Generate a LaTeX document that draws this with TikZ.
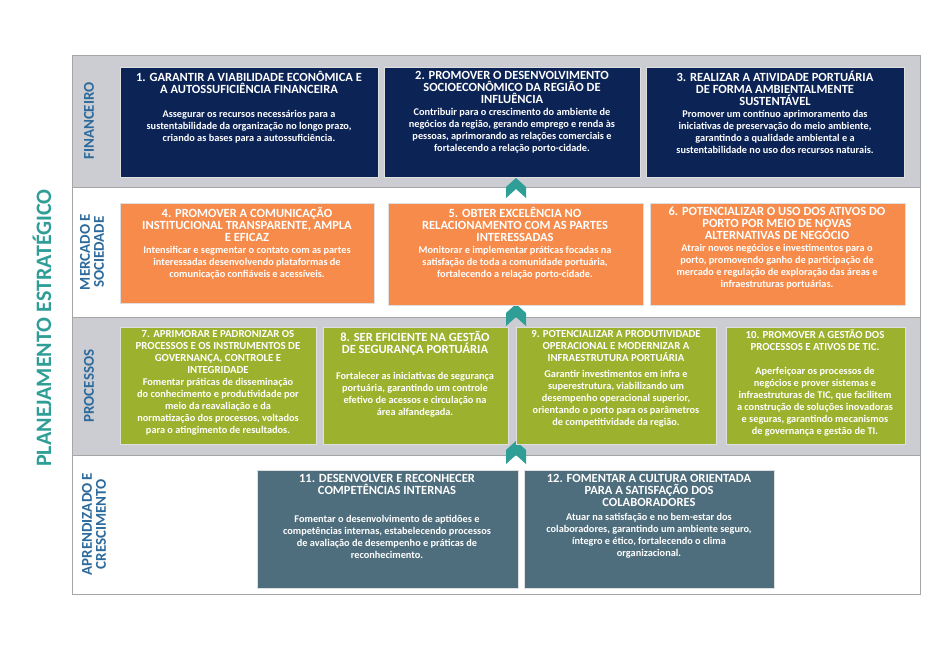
\documentclass[tikz,border=0pt]{standalone}
\usepackage{fontspec}
\setmainfont{Carlito}
\definecolor{navy}{HTML}{0C2356}
\definecolor{orng}{HTML}{F68B4B}
\definecolor{grn}{HTML}{9CB12E}
\definecolor{slate}{HTML}{4E6D7D}
\definecolor{band}{HTML}{CBCDD2}
\definecolor{lblue}{HTML}{2D6A9C}
\definecolor{teal}{HTML}{2E9E97}
\tikzset{
  txt/.style={text=white, font=\bfseries, align=center, anchor=north, inner sep=0pt},
  boxedge/.style={draw=white!75!gray, line width=0.6pt},
  bandlbl/.style={rotate=90, text=lblue, font=\bfseries\fontsize{15}{14}\selectfont, align=center},
  chev/.style={fill=teal}
}
\newcommand{\myH}{\fontsize{12.5}{16}\selectfont}
\newcommand{\myS}{\fontsize{10.8}{14}\selectfont}
\newcommand{\myB}{\fontsize{10.3}{12.3}\selectfont}
\begin{document}
\begin{tikzpicture}[x=1pt,y=-1pt]
\useasboundingbox (0,0) rectangle (945,646);
\fill[white] (0,0) rectangle (945,646);
\fill[band] (72,55) rectangle (920,187);
\fill[band] (72,317) rectangle (920,455);
\draw[gray!70, line width=1pt] (72,55) rectangle (920,594);
\draw[gray!70, line width=1pt] (72,187) -- (920,187) (72,317) -- (920,317) (72,455) -- (920,455);
\node[rotate=90, text=teal, font=\bfseries\fontsize{22}{24}\selectfont] (pe) at (42,328) {PLANEJAMENTO ESTRATÉGICO};
\node[bandlbl] (l1) at (89,121) {FINANCEIRO};
\node[bandlbl] (l2) at (92,252) {MERCADO E\\SOCIEDADE};
\node[bandlbl] (l3) at (89,386) {PROCESSOS};
\node[bandlbl] (l4) at (94,524) {APRENDIZADO E\\CRESCIMENTO};
\foreach \t/\b in {178/198, 304/326, 441/464}{
  \fill[chev] (506,\b) -- (506,\t+9) -- (516,\t) -- (526,\t+9) -- (526,\b) -- (516,\b-9) -- cycle;}
% row 1
\fill[navy] (120,67) rectangle (378,177); \draw[boxedge] (120,67) rectangle (378,177);
\node[txt] (b1) at (249,71) {\myH 1. GARANTIR A VIABILIDADE ECONÔMICA E\\\myH A AUTOSSUFICIÊNCIA FINANCEIRA\\[12pt]\myB Assegurar os recursos necessários para a\\\myB sustentabilidade da organização no longo prazo,\\\myB criando as bases para a autossuficiência.};
\fill[navy] (384,67) rectangle (640,177); \draw[boxedge] (384,67) rectangle (640,177);
\node[txt] (b2) at (512,71) {\myH 2. PROMOVER O DESENVOLVIMENTO\\\myH SOCIOECONÔMICO DA REGIÃO DE\\\myH INFLUÊNCIA\\\myB Contribuir para o crescimento do ambiente de\\\myB negócios da região, gerando emprego e renda às\\\myB pessoas, aprimorando as relações comerciais e\\\myB fortalecendo a relação porto-cidade.};
\fill[navy] (646,67) rectangle (904,177); \draw[boxedge] (646,67) rectangle (904,177);
\node[txt] (b3) at (775,71) {\myH 3. REALIZAR A ATIVIDADE PORTUÁRIA\\\myH DE FORMA AMBIENTALMENTE\\\myH SUSTENTÁVEL\\\myB Promover um contínuo aprimoramento das\\\myB iniciativas de preservação do meio ambiente,\\\myB garantindo a qualidade ambiental e a\\\myB sustentabilidade no uso dos recursos naturais.};
% row 2
\fill[orng] (120,203) rectangle (374,303); \draw[boxedge] (120,203) rectangle (374,303);
\node[txt] (b4) at (247,207) {\myH 4. PROMOVER A COMUNICAÇÃO\\\myH INSTITUCIONAL TRANSPARENTE, AMPLA\\\myH E EFICAZ\\\myB Intensificar e segmentar o contato com as partes\\\myB interessadas desenvolvendo plataformas de\\\myB comunicação confiáveis e acessíveis.};
\fill[orng] (388,203) rectangle (643,305); \draw[boxedge] (388,203) rectangle (643,305);
\node[txt] (b5) at (515,207) {\myH 5. OBTER EXCELÊNCIA NO\\\myH RELACIONAMENTO COM AS PARTES\\\myH INTERESSADAS\\\myB Monitorar e implementar práticas focadas na\\\myB satisfação de toda a comunidade portuária,\\\myB fortalecendo a relação porto-cidade.};
\fill[orng] (650,203) rectangle (905,305); \draw[boxedge] (650,203) rectangle (905,305);
\node[txt] (b6) at (777,207) {\myH 6. POTENCIALIZAR O USO DOS ATIVOS DO\\\myH PORTO POR MEIO DE NOVAS\\\myH ALTERNATIVAS DE NEGÓCIO\\\myB Atrair novos negócios e investimentos para o\\\myB porto, promovendo ganho de participação de\\\myB mercado e regulação de exploração das áreas e\\\myB infraestruturas portuárias.};
% row 3
\fill[grn] (120,327) rectangle (316,444); \draw[boxedge] (120,327) rectangle (316,444);
\node[txt] (b7) at (218,330) {\myS 7. APRIMORAR E PADRONIZAR OS\\\myS PROCESSOS E OS INSTRUMENTOS DE\\\myS GOVERNANÇA, CONTROLE E\\\myS INTEGRIDADE\\\myB Fomentar práticas de disseminação\\\myB do conhecimento e produtividade por\\\myB meio da reavaliação e da\\\myB normatização dos processos, voltados\\\myB para o atingimento de resultados.};
\fill[grn] (323,327) rectangle (508,444); \draw[boxedge] (323,327) rectangle (508,444);
\node[txt] (b8) at (415,331) {\myH 8. SER EFICIENTE NA GESTÃO\\\myH DE SEGURANÇA PORTUÁRIA\\[14pt]\myB Fortalecer as iniciativas de segurança\\\myB portuária, garantindo um controle\\\myB efetivo de acessos e circulação na\\\myB área alfandegada.};
\fill[grn] (516,327) rectangle (716,444); \draw[boxedge] (516,327) rectangle (716,444);
\node[txt] (b9) at (616,330) {\myS 9. POTENCIALIZAR A PRODUTIVIDADE\\\myS OPERACIONAL E MODERNIZAR A\\\myS INFRAESTRUTURA PORTUÁRIA\\[4pt]\myB Garantir investimentos em infra e\\\myB superestrutura, viabilizando um\\\myB desempenho operacional superior,\\\myB orientando o porto para os parâmetros\\\myB de competitividade da região.};
\fill[grn] (726,327) rectangle (905,444); \draw[boxedge] (726,327) rectangle (905,444);
\node[txt] (b10) at (815,330) {\myS 10. PROMOVER A GESTÃO DOS\\\myS PROCESSOS E ATIVOS DE TIC.\\[12pt]\myB Aperfeiçoar os processos de\\\myB negócios e prover sistemas e\\\myB infraestruturas de TIC, que facilitem\\\myB a construção de soluções inovadoras\\\myB e seguras, garantindo mecanismos\\\myB de governança e gestão de TI.};
% row 4
\fill[slate] (257,470) rectangle (518,588); \draw[boxedge] (257,470) rectangle (518,588);
\node[txt] (b11) at (387,474) {\myH 11. DESENVOLVER E RECONHECER\\\myH COMPETÊNCIAS INTERNAS\\[16pt]\myB Fomentar o desenvolvimento de aptidões e\\\myB competências internas, estabelecendo processos\\\myB de avaliação de desempenho e práticas de\\\myB reconhecimento.};
\fill[slate] (524,470) rectangle (774,588); \draw[boxedge] (524,470) rectangle (774,588);
\node[txt] (b12) at (649,474) {\myH 12. FOMENTAR A CULTURA ORIENTADA\\\myH PARA A SATISFAÇÃO DOS\\\myH COLABORADORES\\[2pt]\myB Atuar na satisfação e no bem-estar dos\\\myB colaboradores, garantindo um ambiente seguro,\\\myB íntegro e ético, fortalecendo o clima\\\myB organizacional.};
\end{tikzpicture}
\end{document}
